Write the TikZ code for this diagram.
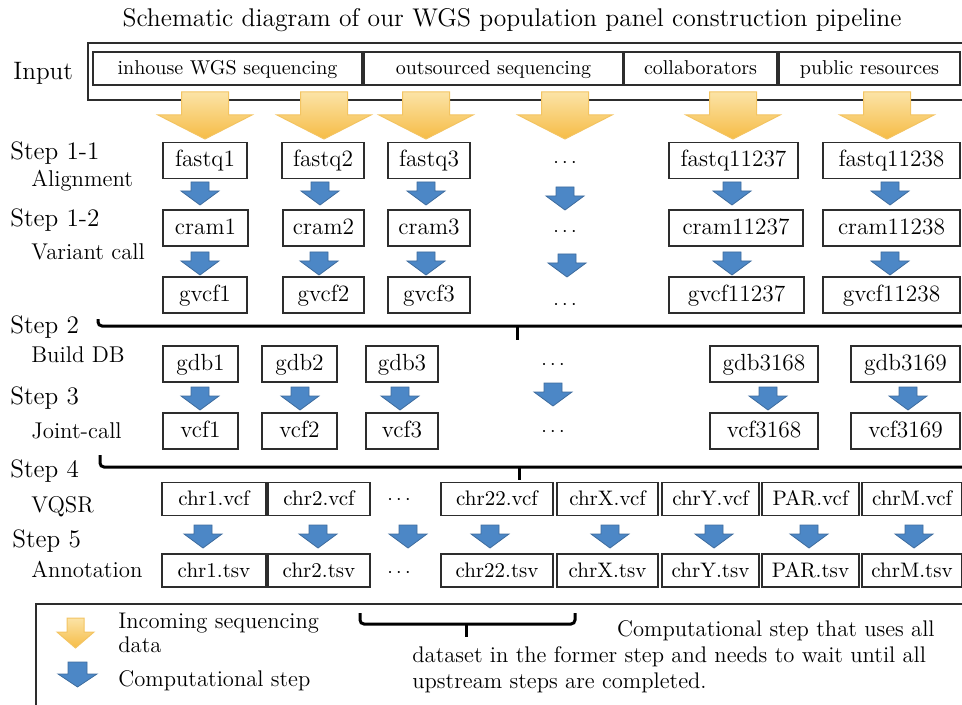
\documentclass[tikz,border=0pt]{standalone}
\usepackage{fontspec}

\definecolor{seqtop}{RGB}{251,227,166}
\definecolor{seqbottom}{RGB}{246,188,70}
\definecolor{seqedge}{RGB}{243,196,98}
\definecolor{stepfill}{RGB}{76,135,198}
\definecolor{stepedge}{RGB}{62,108,158}
\definecolor{boxline}{RGB}{45,45,45}

\tikzset{
  wd/.style={minimum width=#1*0.5pt},
  inbox/.style={draw=boxline, line width=0.75pt, inner sep=0pt, minimum height=16.5pt,
    text height=0.75em, text depth=0.1em, font=\fontsize{10}{12}\selectfont},
  databox/.style={draw=boxline, line width=0.75pt, inner sep=0pt, minimum height=18pt,
    text height=0.75em, text depth=0.1em, font=\fontsize{11.7}{13}\selectfont},
  chrbox/.style={databox, minimum height=16.5pt, font=\fontsize{10.5}{12}\selectfont},
  steplabel/.style={anchor=base west, inner sep=0pt, font=\fontsize{12.6}{14}\selectfont},
  sublabel/.style={anchor=base west, inner sep=0pt, font=\fontsize{11.4}{13}\selectfont},
  legendtext/.style={anchor=base west, inner sep=0pt, font=\fontsize{11.3}{13}\selectfont},
  dots/.style={inner sep=0pt, font=\fontsize{10}{12}\selectfont},
  bracket/.style={line width=1.5pt, rounded corners=2pt},
  seqdown/.pic={
    \shade[top color=seqtop, bottom color=seqbottom, draw=seqedge, line width=0.5pt]
      (-23.5,0) -- (23.5,0) -- (23.5,23) -- (47,23) -- (0,47) -- (-47,23) -- (-23.5,23) -- cycle;
  },
  stepdown/.pic={
    \draw[fill=stepfill, draw=stepedge, line width=0.4pt]
      (-9,0) -- (9,0) -- (9,9) -- (19,9) -- (0,23) -- (-19,9) -- (-9,9) -- cycle;
  },
}

\begin{document}
\begin{tikzpicture}[x=0.5pt, y=-0.5pt]
  \useasboundingbox (0,0) rectangle (962,705);
  \clip (0,0) rectangle (962,705);

  \node[anchor=base, font=\fontsize{12.8}{15}\selectfont] (title) at (512,27)
    {Schematic diagram of our WGS population panel construction pipeline};

  % input sources
  \draw[draw=boxline, line width=0.75pt] (88,43) rectangle (975,100);
  \node[steplabel] (input) at (13,80) {Input};
  \begin{scope}[every node/.style={inbox}]
    \node[wd=269] (inhouse)    at (227.5,68.5) {inhouse WGS sequencing};
    \node[wd=259] (outsourced) at (493.5,68.5) {outsourced sequencing};
    \node[wd=153] (collab)     at (700.5,68.5) {collaborators};
    \node[wd=181] (public)     at (869.5,68.5) {public resources};
  \end{scope}

  \foreach \x in {205,324,426,565,733,887}
    \pic at (\x,92) {seqdown};

  % row labels
  \node[steplabel] (s11)   at (10,160) {Step 1-1};
  \node[sublabel]  (align) at (31,187) {Alignment};
  \node[steplabel] (s12)   at (10,227) {Step 1-2};
  \node[sublabel]  (vcall) at (31,260) {Variant call};
  \node[steplabel] (s2)    at (10,333) {Step 2};
  \node[sublabel]  (build) at (31,362) {Build DB};
  \node[steplabel] (s3)    at (10,404) {Step 3};
  \node[sublabel]  (joint) at (31,438) {Joint-call};
  \node[steplabel] (s4)    at (10,477) {Step 4};
  \node[sublabel]  (vqsr)  at (31,512) {VQSR};
  \node[steplabel] (s5)    at (12,547) {Step 5};
  \node[sublabel]  (annot) at (31,577) {Annotation};

  % step 1
  \begin{scope}[every node/.style={databox}]
    \node[wd=84]  (fastq1)     at (205,160.5)   {fastq1};
    \node[wd=82]  (fastq2)     at (323,160.5)   {fastq2};
    \node[wd=82]  (fastq3)     at (429,160.5)   {fastq3};
    \node[wd=129] (fastq11237) at (733.5,160.5) {fastq11237};
    \node[wd=137] (fastq11238) at (891.5,160.5) {fastq11238};

    \node[wd=85]  (cram1)     at (205.5,228) {cram1};
    \node[wd=81]  (cram2)     at (323.5,228) {cram2};
    \node[wd=82]  (cram3)     at (429,228)   {cram3};
    \node[wd=134] (cram11237) at (736,228)   {cram11237};
    \node[wd=137] (cram11238) at (891.5,228) {cram11238};

    \node[wd=84]  (gvcf1)     at (205,295)   {gvcf1};
    \node[wd=81]  (gvcf2)     at (323.5,295) {gvcf2};
    \node[wd=82]  (gvcf3)     at (429,295)   {gvcf3};
    \node[wd=135] (gvcf11237) at (736.5,295) {gvcf11237};
    \node[wd=137] (gvcf11238) at (891.5,295) {gvcf11238};
  \end{scope}
  \node[dots] (fastqdots) at (565,163) {$\cdots$};
  \node[dots] (cramdots)  at (565,232) {$\cdots$};
  \node[dots] (gvcfdots)  at (565,305) {$\cdots$};

  \foreach \x in {200,320,426,732,890}
    \pic at (\x,182) {stepdown};
  \pic at (565,187) {stepdown};
  \foreach \x in {200,319,426,732,890}
    \pic at (\x,252) {stepdown};
  \pic at (567,254) {stepdown};

  % step 2 and 3
  \draw[bracket] (98,319) -- (98,326) -- (975,326);
  \draw[bracket] (517,326) -- (517,340);

  \begin{scope}[every node/.style={databox}]
    \node[wd=75]  (gdb1)    at (200.5,364) {gdb1};
    \node[wd=75]  (gdb2)    at (299.5,364) {gdb2};
    \node[wd=72]  (gdb3)    at (402,364)   {gdb3};
    \node[wd=108] (gdb3168) at (764,364)   {gdb3168};
    \node[wd=109] (gdb3169) at (905.5,364) {gdb3169};

    \node[wd=75]  (vcf1)    at (200.5,431) {vcf1};
    \node[wd=75]  (vcf2)    at (299.5,431) {vcf2};
    \node[wd=72]  (vcf3)    at (402,431)   {vcf3};
    \node[wd=108] (vcf3168) at (764,431)   {vcf3168};
    \node[wd=109] (vcf3169) at (905.5,431) {vcf3169};
  \end{scope}
  \node[dots] (gdbdots) at (553,365) {$\cdots$};
  \node[dots] (vcfdots) at (553,432) {$\cdots$};

  \foreach \x in {200,300,400,768,908}
    \pic at (\x,387) {stepdown};
  \pic at (553,383) {stepdown};

  % step 4 and 5
  \draw[bracket] (100,455) -- (100,467) -- (975,467);
  \draw[bracket] (519,467) -- (519,480);

  \begin{scope}[every node/.style={chrbox}]
    \node[wd=104] (chr1vcf)  at (214,499)   {chr1.vcf};
    \node[wd=102] (chr2vcf)  at (319,499)   {chr2.vcf};
    \node[wd=112] (chr22vcf) at (497,499)   {chr22.vcf};
    \node[wd=101] (chrXvcf)  at (607.5,499) {chrX.vcf};
    \node[wd=97]  (chrYvcf)  at (710.5,499) {chrY.vcf};
    \node[wd=97]  (parvcf)   at (810.5,499) {PAR.vcf};
    \node[wd=100] (chrMvcf)  at (912,499)   {chrM.vcf};

    \node[wd=104] (chr1tsv)  at (214,570.5)   {chr1.tsv};
    \node[wd=102] (chr2tsv)  at (319,570.5)   {chr2.tsv};
    \node[wd=112] (chr22tsv) at (497,570.5)   {chr22.tsv};
    \node[wd=101] (chrXtsv)  at (607.5,570.5) {chrX.tsv};
    \node[wd=97]  (chrYtsv)  at (710.5,570.5) {chrY.tsv};
    \node[wd=97]  (partsv)   at (810.5,570.5) {PAR.tsv};
    \node[wd=100] (chrMtsv)  at (912,570.5)   {chrM.tsv};
  \end{scope}
  \node[dots] (chrvcfdots) at (399,500) {$\cdots$};
  \node[dots] (chrtsvdots) at (399,573) {$\cdots$};

  \foreach \x in {203,318,408,490,610,714,809,914}
    \pic at (\x,525) {stepdown};

  % legend
  \draw[draw=boxline, line width=0.75pt] (36,604) rectangle (975,720);
  \shade[top color=seqtop, bottom color=seqbottom, draw=seqedge, line width=0.5pt]
    (67,618) -- (84,618) -- (84,632) -- (94,632) -- (75.5,648) -- (57,632) -- (67,632) -- cycle;
  \draw[fill=stepfill, draw=stepedge, line width=0.4pt]
    (68,662) -- (87,662) -- (87,674) -- (97,674) -- (77.5,687) -- (58,674) -- (68,674) -- cycle;
  \node[legendtext] (lgseq)  at (118,628) {Incoming sequencing};
  \node[legendtext] (lgdata) at (118,652) {data};
  \node[legendtext] (lgstep) at (118,686) {Computational step};

  \draw[bracket] (360,613) -- (360,624) -- (575,624) -- (575,613);
  \draw[bracket] (466,624) -- (466,637);
  \node[legendtext, anchor=base east] (lgall1) at (935,636) {Computational step that uses all};
  \node[legendtext] (lgall2) at (412,662) {dataset in the former step and needs to wait until all};
  \node[legendtext] (lgall3) at (412,688) {upstream steps are completed.};

\end{tikzpicture}
\end{document}
